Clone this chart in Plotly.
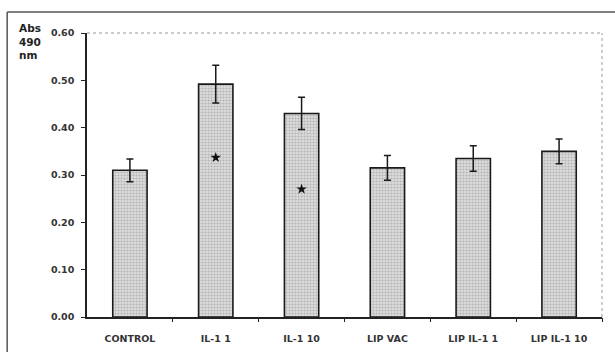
import plotly.graph_objects as go

categories = ["CONTROL", "IL-1 1", "IL-1 10", "LIP VAC", "LIP IL-1 1", "LIP IL-1 10"]
means = [0.310, 0.492, 0.430, 0.315, 0.335, 0.350]
errors = [0.024, 0.040, 0.034, 0.026, 0.027, 0.026]
star_idx = [1, 2]
star_y = [0.337, 0.270]
y_ticks = [0.0, 0.1, 0.2, 0.3, 0.4, 0.5, 0.6]

xpos = list(range(len(categories)))
sep_ticks = [i + 0.5 for i in xpos]

fig = go.Figure()
fig.add_trace(go.Bar(
    x=xpos, y=means, width=0.40,
    marker=dict(
        color="#d4d4d4",
        line=dict(color="#1a1a1a", width=1.6),
        pattern=dict(shape=".", bgcolor="#dcdcdc", fgcolor="#8a8a8a", size=3, solidity=0.4),
    ),
    error_y=dict(type="data", array=errors, visible=True, color="#1a1a1a", thickness=1.5, width=3.5),
    showlegend=False,
))
fig.add_trace(go.Scatter(
    x=star_idx, y=star_y, mode="markers",
    marker=dict(symbol="star", size=8, color="#111"),
    showlegend=False,
))
# invisible trace on separator axis
fig.add_trace(go.Scatter(x=[sep_ticks[0]], y=[0], xaxis="x2", mode="markers",
                         marker=dict(opacity=0), showlegend=False, hoverinfo="skip"))

font_tick = dict(family="DejaVu Sans", size=9.5, color="#333", weight="bold")

fig.update_layout(
    width=615, height=352,
    margin=dict(l=87, r=13, t=33, b=35, autoexpand=False),
    paper_bgcolor="white", plot_bgcolor="white",
    xaxis=dict(
        range=[-0.5, 5.5], tickvals=xpos, ticktext=categories, ticks="",
        showline=True, linecolor="#222", linewidth=1.5, showgrid=False, zeroline=False,
        tickfont=font_tick, ticklabelstandoff=12, automargin=False,
    ),
    xaxis2=dict(
        range=[-0.5, 5.5], overlaying="x", anchor="y", side="bottom",
        tickvals=sep_ticks, showticklabels=False, ticks="outside", ticklen=4,
        tickwidth=1, tickcolor="#222", showgrid=False, zeroline=False, showline=False,
        automargin=False,
    ),
    yaxis=dict(
        range=[0, 0.6], tickvals=y_ticks, tickformat=".2f", ticks="outside", ticklen=4,
        tickwidth=1, tickcolor="#222", showline=True, linecolor="#222", linewidth=1.5,
        showgrid=False, zeroline=False, tickfont=font_tick, ticklabelstandoff=5,
        automargin=False,
    ),
    shapes=[
        dict(type="line", xref="paper", yref="paper", x0=0, x1=1, y0=1, y1=1,
             line=dict(color="#999", width=1, dash="dot")),
        dict(type="line", xref="paper", yref="paper", x0=1, x1=1, y0=0, y1=1,
             line=dict(color="#999", width=1, dash="dot")),
        dict(type="line", xref="paper", yref="paper", x0=-0.155, x1=1.03, y0=1.074, y1=1.074,
             line=dict(color="#555", width=1.5)),
        dict(type="line", xref="paper", yref="paper", x0=-0.155, x1=-0.155, y0=1.074, y1=-0.13,
             line=dict(color="#555", width=1.5)),
    ],
    annotations=[
        dict(text="<b>Abs</b><br><b>490</b><br><b>nm</b>", xref="paper", yref="paper",
             x=-0.136, y=1.045, xanchor="left", yanchor="top", align="left", showarrow=False,
             font=dict(family="DejaVu Sans", size=10.5, color="#222")),
    ],
)

fig.write_html("out.html")
